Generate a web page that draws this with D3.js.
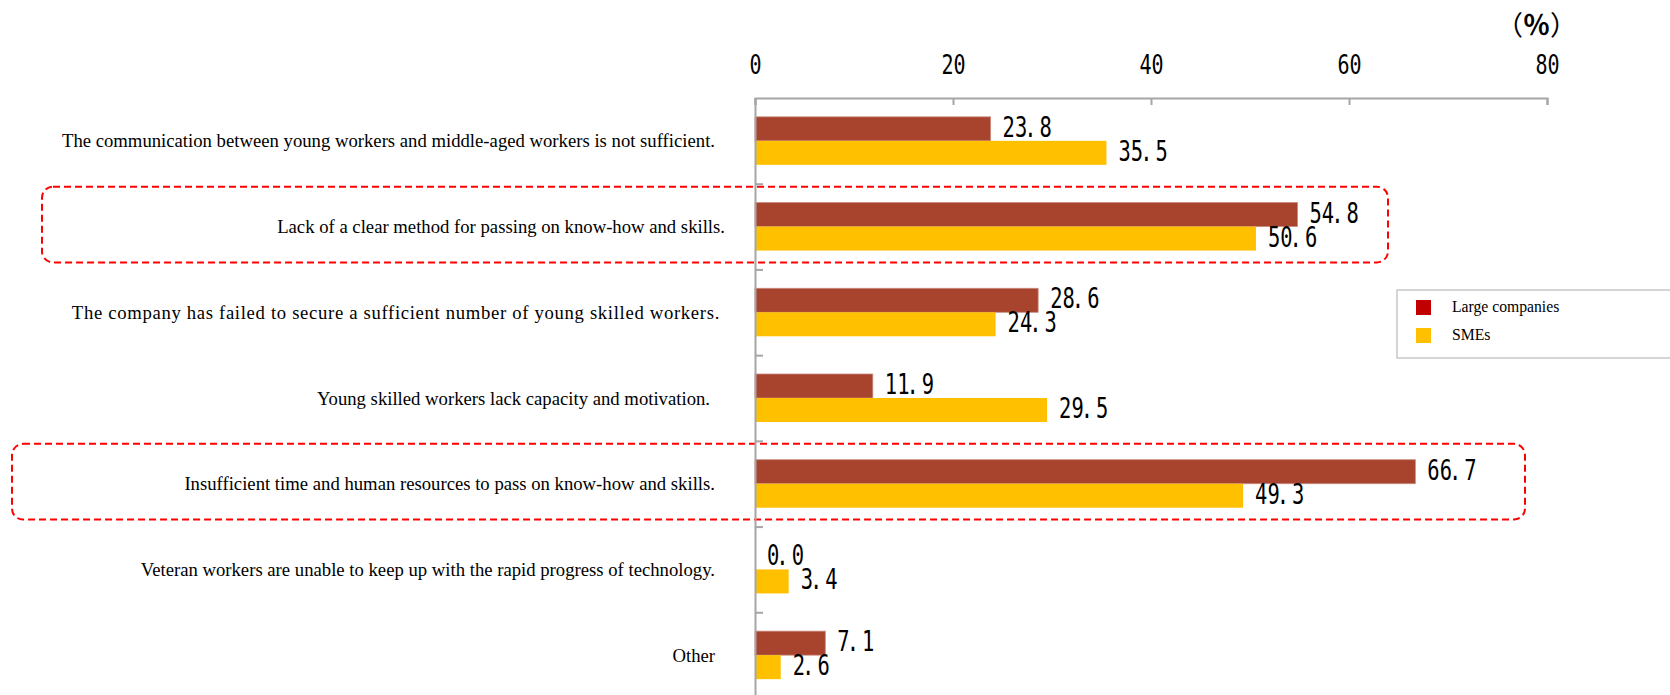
<!DOCTYPE html>
<html>
<head>
<meta charset="utf-8">
<script src="https://cdn.jsdelivr.net/npm/d3@7/dist/d3.min.js"></script>
<style>
  html, body { margin: 0; padding: 0; background: #ffffff; }
  svg { display: block; }
</style>
</head>
<body>
<svg id="chart" width="1670" height="695"></svg>
<script>
// Problems in passing on know-how and skills, by company size (%)
const categories = [
  "The communication between young workers and middle-aged workers is not sufficient.",
  "Lack of a clear method for passing on know-how and skills.",
  "The company has failed to secure a sufficient number of young skilled workers.",
  "Young skilled workers lack capacity and motivation.",
  "Insufficient time and human resources to pass on know-how and skills.",
  "Veteran workers are unable to keep up with the rapid progress of technology.",
  "Other"
];
const seriesNames = ["Large companies", "SMEs"];
const largeCompanies = [23.8, 54.8, 28.6, 11.9, 66.7, 0.0, 7.1];
const smes = [35.5, 50.6, 24.3, 29.5, 49.3, 3.4, 2.6];
const xTicks = [0, 20, 40, 60, 80];
const unitLabel = "（％）";
const highlighted = [
  "Lack of a clear method for passing on know-how and skills.",
  "Insufficient time and human resources to pass on know-how and skills."
];

// Layout and style
const barColors = ["#a8432d", "#ffc000"];
const legendColors = ["#c00000", "#ffc000"];
const axisColor = "#a6a6a6";
const labelShift = [0, 10, 5, -5, 0, 0, 0];          // per-row nudge of label right edge
const labelSpacing = [0, 0, 0.67, 0, 0, 0, 0];       // per-row letter spacing

const svg = d3.select("#chart");

const x = d3.scaleLinear().domain([0, 80]).range([755, 1547]);
const y = d3.scaleBand().domain(categories).range([98, 698])
  .paddingInner(0.44).paddingOuter(0.22);
const ySub = d3.scaleBand().domain(seriesNames).range([0, y.bandwidth()]);
const step = y.step();
const rowTop = c => y(c) - y.paddingOuter() * step;

const rows = categories.map((c, i) => ({
  category: c,
  values: [
    { series: seriesNames[0], value: largeCompanies[i] },
    { series: seriesNames[1], value: smes[i] }
  ]
}));

// Highlight frames (dashed, rounded) around two of the rows
const frames = [
  { category: highlighted[0], left: 42, right: 1388 },
  { category: highlighted[1], left: 12, right: 1525 }
];
svg.append("g").selectAll("rect").data(frames).join("rect")
  .attr("x", d => d.left)
  .attr("y", d => rowTop(d.category) + 3)
  .attr("width", d => d.right - d.left)
  .attr("height", step - 10)
  .attr("rx", 11).attr("ry", 11)
  .attr("fill", "none")
  .attr("stroke", "#ff0000")
  .attr("stroke-width", 2)
  .attr("stroke-dasharray", "7,4");

// Bars
const rowG = svg.append("g").selectAll("g").data(rows).join("g")
  .attr("transform", d => `translate(0,${y(d.category)})`);

rowG.selectAll("rect").data(d => d.values).join("rect")
  .attr("x", x(0))
  .attr("y", d => ySub(d.series))
  .attr("width", d => x(d.value) - x(0))
  .attr("height", ySub.bandwidth())
  .attr("fill", (d, i) => barColors[i])
  .attr("stroke", (d, i) => i === 0 && d.value > 0 ? "#c98a7c" : "none")
  .attr("stroke-width", 0.8);

// Value labels (half-width style: the point sits left in its cell)
const valText = rowG.selectAll("g.val").data(d => d.values).join("g")
  .attr("class", "val")
  .attr("transform", d => `translate(${x(d.value) + 12},${ySub(d.series) + ySub.bandwidth() / 2 + 8}) scale(0.745,1)`)
  .append("text")
  .attr("font-family", "'DejaVu Sans Mono', monospace")
  .attr("font-size", 27.5)
  .attr("fill", "#000");
valText.each(function (d) {
  const [intPart, decPart] = d.value.toFixed(1).split(".");
  const t = d3.select(this);
  t.append("tspan").text(intPart);
  t.append("tspan").attr("dx", -4).text(".");
  t.append("tspan").attr("dx", 4).text(decPart);
});

// Category labels
svg.append("g").selectAll("text").data(categories).join("text")
  .attr("x", (d, i) => 715 + labelShift[i])
  .attr("y", d => y(d) + y.bandwidth() / 2)
  .attr("dy", "0.35em")
  .attr("text-anchor", "end")
  .attr("letter-spacing", (d, i) => labelSpacing[i])
  .attr("font-family", "'Liberation Serif', 'Times New Roman', serif")
  .attr("font-size", 18.7)
  .attr("fill", "#000")
  .text(d => d);

// Top value axis
const xAxis = d3.axisTop(x).tickValues(xTicks).tickFormat(d3.format("d"))
  .tickSizeInner(-7).tickSizeOuter(-7).tickPadding(24);
const xg = svg.append("g").attr("transform", "translate(0,98)").call(xAxis);
xg.select(".domain").attr("stroke", axisColor).attr("stroke-width", 2);
xg.selectAll(".tick line").attr("stroke", axisColor).attr("stroke-width", 2);
xg.selectAll(".tick text")
  .attr("transform", "scale(0.77,1)")
  .attr("font-family", "'DejaVu Sans Mono', monospace")
  .attr("font-size", 26)
  .attr("fill", "#000");

// Category axis with ticks at the row boundaries
const rowIndex = d3.scaleLinear().domain([0, categories.length]).range([98, 698]);
const yAxis = d3.axisRight(rowIndex).tickValues(d3.range(1, categories.length))
  .tickFormat("").tickSizeInner(8).tickSizeOuter(0);
const yg = svg.append("g").attr("transform", `translate(${x(0)},0)`).call(yAxis);
yg.select(".domain").attr("stroke", axisColor).attr("stroke-width", 2);
yg.selectAll(".tick line").attr("stroke", axisColor).attr("stroke-width", 2);

// Unit label (full-width characters)
const unit = svg.append("text")
  .attr("x", 1496).attr("y", 35)
  .attr("font-family", "'Noto Sans CJK JP', sans-serif")
  .attr("font-size", 27)
  .attr("fill", "#000");
unit.selectAll("tspan").data(Array.from(unitLabel)).join("tspan")
  .attr("font-weight", d => d === "％" ? "bold" : "normal")
  .text(d => d);

// Legend
const legend = svg.append("g").attr("transform", "translate(1397,290)");
legend.append("rect")
  .attr("x", 0).attr("y", 0).attr("width", 290).attr("height", 68)
  .attr("fill", "#fff").attr("stroke", "#c8c8c8").attr("stroke-width", 1.5);
const li = legend.selectAll("g.item").data(seriesNames).join("g")
  .attr("class", "item")
  .attr("transform", (d, i) => `translate(19,${10 + i * 28})`);
li.append("rect").attr("width", 15).attr("height", 15)
  .attr("fill", (d, i) => legendColors[i]);
li.append("text").attr("x", 36).attr("y", 12)
  .attr("font-family", "'Liberation Serif', 'Times New Roman', serif")
  .attr("font-size", 15.7)
  .attr("fill", "#000")
  .text(d => d);
</script>
</body>
</html>
